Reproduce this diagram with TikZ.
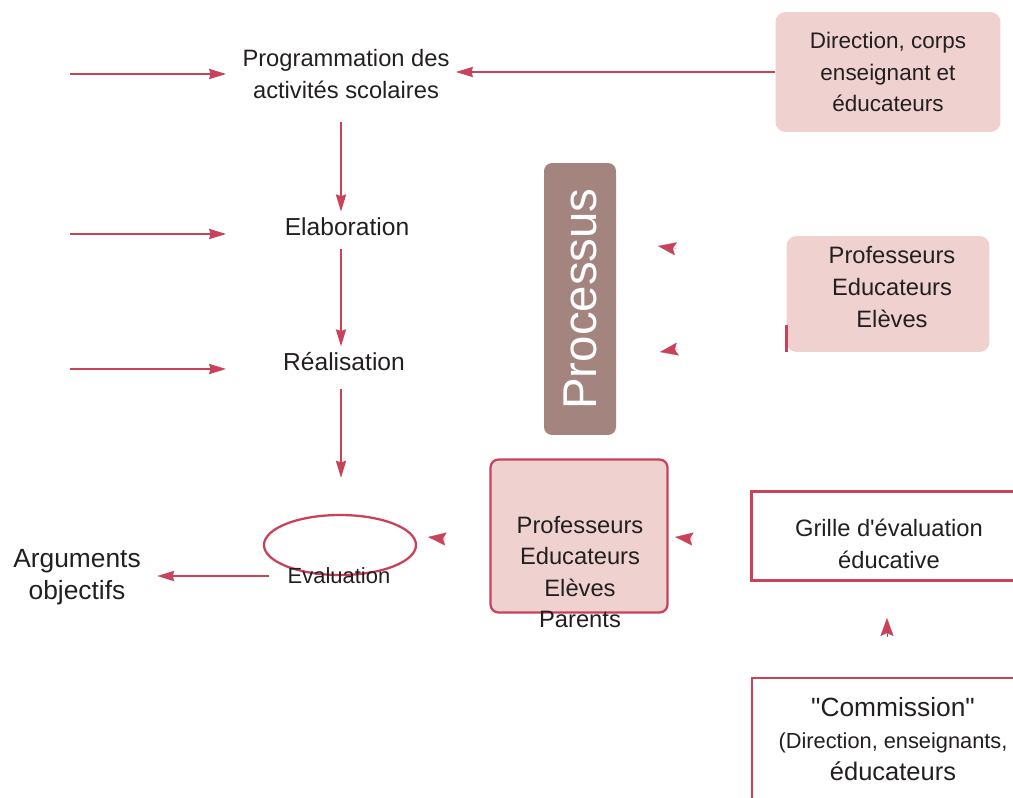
\documentclass[tikz,border=0pt]{standalone}
\usepackage{fontspec}
\setmainfont{Liberation Sans}
\usepackage{xcolor}
\usepackage{tikz}
\usetikzlibrary{arrows.meta,shapes.geometric}
\definecolor{arrowred}{HTML}{C8435A}
\definecolor{boxpink}{HTML}{EFD2CF}
\definecolor{procbrown}{HTML}{A3847F}
\definecolor{txtgray}{HTML}{231F20}
\tikzstyle{lbl} = [text=txtgray, align=center, inner sep=0.12cm,
    font=\fontsize{13.5}{18}\selectfont]
\tikzstyle{pinkbox} = [lbl, fill=boxpink, rounded corners=0.2cm]
\tikzstyle{redbox} = [lbl, draw=arrowred, line width=1.5pt]
\tikzstyle{arr} = [draw=arrowred, line width=1.3pt,
    -{Stealth[length=0.34cm,width=0.2cm,inset=0.03cm]}]
\tikzstyle{head} = [draw=arrowred, line width=0.1pt,
    -{Stealth[length=0.36cm,width=0.26cm,inset=0.06cm]}]

\begin{document}
\begin{tikzpicture}[x=0.02cm,y=-0.02cm]
  \useasboundingbox (0,0) rectangle (1013,797);

  \node[lbl] (prog) at (346,74) {Programmation des\\activités scolaires};
  \node[lbl, font=\fontsize{14}{18}\selectfont] (elab) at (347,227) {Elaboration};
  \node[lbl, font=\fontsize{14}{18}\selectfont] (real) at (344,362) {Réalisation};
  \node[ellipse, draw=arrowred, line width=1.3pt, minimum width=3.04cm,
    minimum height=1.2cm] (ell) at (340,545) {};
  \node[lbl, font=\fontsize{12.5}{18}\selectfont] (evtxt) at (339,576) {Evaluation};
  \node[lbl, font=\fontsize{15}{18}\selectfont] (args) at (77,577) {Arguments\\objectifs};

  \node[pinkbox, font=\fontsize{12.8}{18}\selectfont, minimum width=4.5cm,
    minimum height=2.4cm] (dir) at (888,72) {Direction, corps\\enseignant et\\éducateurs};
  \node[fill=procbrown, rounded corners=0.16cm, minimum width=5.44cm,
    minimum height=1.44cm, rotate=90, text=white, inner sep=0pt,
    font=\fontsize{27}{30}\selectfont] (proc) at (580,299) {Processus};
  \node[pinkbox, minimum width=4.06cm, minimum height=2.32cm] (p2box) at (888,294) {};
  \node[lbl] (p2text) at (892,287) {Professeurs\\Educateurs\\Elèves};
  \node[pinkbox, draw=arrowred, line width=1.3pt, minimum width=3.54cm,
    minimum height=3.06cm, rounded corners=0.16cm] (pbox) at (579,536) {};
  \node[lbl] (ptext) at (580,572) {Professeurs\\Educateurs\\Elèves\\Parents};
  \node[redbox, minimum width=5.46cm, minimum height=1.78cm] (grille) at (888,536) {};
  \node[lbl] (gtext) at (889,544) {Grille d\textquotesingle évaluation\\éducative};
  \node[redbox, minimum width=5.64cm, minimum height=2.44cm] (comm) at (893,739)
    {{\fontsize{15}{18}\selectfont\textquotedbl Commission\textquotedbl}\\
     {\fontsize{12.4}{18}\selectfont(Direction, enseignants,}\\
     {\fontsize{14.5}{18}\selectfont éducateurs}};

  \coordinate (l1) at (70,74);
  \coordinate (l2) at (70,234);
  \coordinate (l3) at (70,369);
  \coordinate (v) at (341,0);
  \foreach \c in {l1,l2,l3}
    \draw[arr, shorten >=0.2cm] (\c) -- (\c -| prog.west);
  \draw[arr, shorten <=0.34cm] (prog.south -| v) -- (elab.north -| v);
  \draw[arr, shorten <=0.14cm] (elab.south -| v) -- (real.north -| v);
  \draw[arr, shorten <=0.22cm, shorten >=0.72cm] (real.south -| v) -- (ell.north -| v);
  \draw[arr, shorten <=0.24cm, shorten >=0.2cm] (evtxt.west) -- (evtxt.west -| args.east);
  \draw[arr] (dir.west) -- (dir.west -| prog.east);
  \draw[draw=arrowred, line width=1.5pt] (p2box.south west) -- ++(0,-27);

  \coordinate (h1a) at (677,249);
  \coordinate (h1b) at (658,246);
  \coordinate (h2a) at (678,349);
  \coordinate (h2b) at (660,352);
  \coordinate (h3a) at (446,539);
  \coordinate (h3b) at (428,537);
  \coordinate (h4a) at (693,539);
  \coordinate (h4b) at (675,537);
  \coordinate (h5a) at (887,637);
  \coordinate (h5b) at (887,618);
  \draw[head] (h1a) -- (h1b);
  \draw[head] (h2a) -- (h2b);
  \draw[head] (h3a) -- (h3b);
  \draw[head] (h4a) -- (h4b);
  \draw[head] (h5a) -- (h5b);
\end{tikzpicture}
\end{document}
